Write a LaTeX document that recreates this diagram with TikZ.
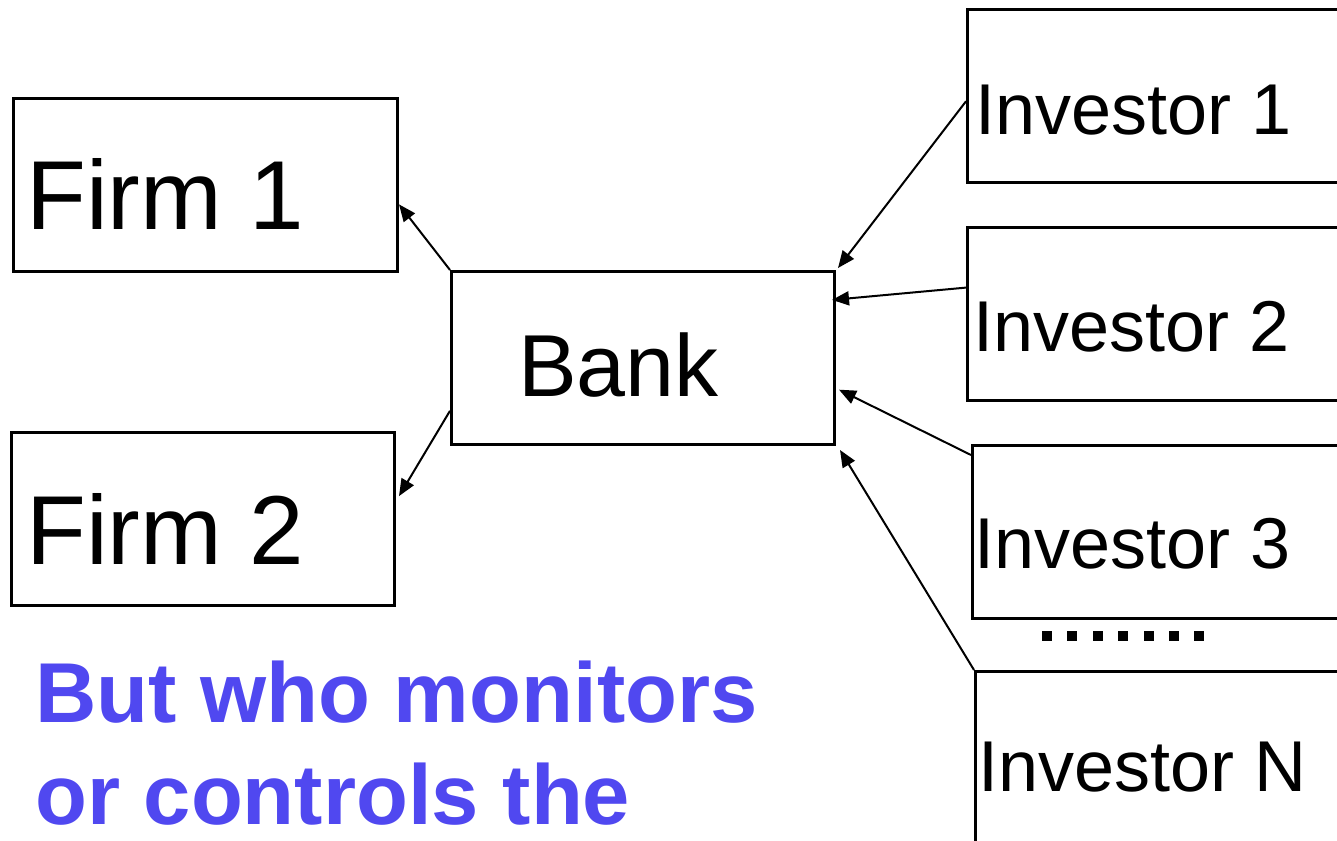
\documentclass[tikz,border=0pt]{standalone}
\usepackage{fontspec}
\setmainfont{Liberation Sans}
\usetikzlibrary{arrows.meta,calc}
\definecolor{askblue}{RGB}{80,72,240}
\tikzset{
  boxframe/.style={draw=black, line width=3pt, rectangle, inner sep=0pt, anchor=north west},
  conn/.style={draw=black, line width=2pt, -{Triangle[length=17pt,width=14pt]}},
  lbl/.style={inner sep=0pt, anchor=base west},
}
\begin{document}
\begin{tikzpicture}[x=1pt, y=-1pt]
\useasboundingbox (0,0) rectangle (1337,840);
\clip (0,0) rectangle (1337,840);

% firms on the left
\node[boxframe, minimum width=384pt, minimum height=173pt] (firmA) at (12,97) {};
\node[boxframe, minimum width=383pt, minimum height=173pt] (firmB) at (10,431) {};
\node[lbl] (firmAtext) at (26,229) {\fontsize{98}{98}\selectfont Firm 1};
\node[lbl] (firmBtext) at (26,564) {\fontsize{98}{98}\selectfont Firm 2};

% the bank in the middle
\node[boxframe, minimum width=383pt, minimum height=173pt] (bank) at (450,270) {};
\node[lbl] (banktext) at (518,396) {\fontsize{88}{88}\selectfont Bank};

% investors on the right, running past the edge
\node[boxframe, minimum width=500pt, minimum height=173pt] (invA) at (966,8) {};
\node[boxframe, minimum width=500pt, minimum height=173pt] (invB) at (966,226) {};
\node[boxframe, minimum width=500pt, minimum height=173pt] (invC) at (971,444) {};
\node[boxframe, minimum width=500pt, minimum height=260pt] (invN) at (974,670) {};
\node[lbl] (invAtext) at (975,134) {\fontsize{72}{72}\selectfont Investor 1};
\node[lbl] (invBtext) at (973,351) {\fontsize{72}{72}\selectfont Investor 2};
\node[lbl] (invCtext) at (974,568) {\fontsize{72}{72}\selectfont Investor 3};
\node[lbl] (invNtext) at (978,791) {\fontsize{72}{72}\selectfont Investor N};

% ellipsis between investor 3 and investor N
\foreach \k in {0,...,6} {
  \fill[black] ({1042+\k*25.4},631) rectangle ++(10,10);
}

% flows
\draw[conn] (bank.north west) -- ($(firmA.north east)!0.61!(firmA.south east)$);
\draw[conn] ($(bank.north west)!0.80!(bank.south west)$) -- ($(firmB.north east)!0.37!(firmB.south east)+(3,0)$);
\draw[conn] ($(invA.north west)!0.53!(invA.south west)$) -- ($(bank.north east)+(2,-2)$);
\draw[conn] ($(invB.north west)!0.35!(invB.south west)$) -- ($(bank.north east)!0.17!(bank.south east)+(-4,0)$);
\draw[conn] ($(invC.north west)+(0,11)$) -- ($(bank.north east)!0.68!(bank.south east)+(3,0)$);
\draw[conn] (invN.north west) -- ($(bank.south east)+(4,4)$);

% question
\node[lbl, text=askblue] (qA) at (35,722) {\fontsize{85}{85}\selectfont\bfseries But who monitors};
\node[lbl, text=askblue] (qB) at (35,824) {\fontsize{85}{85}\selectfont\bfseries or controls the};
\end{tikzpicture}
\end{document}
